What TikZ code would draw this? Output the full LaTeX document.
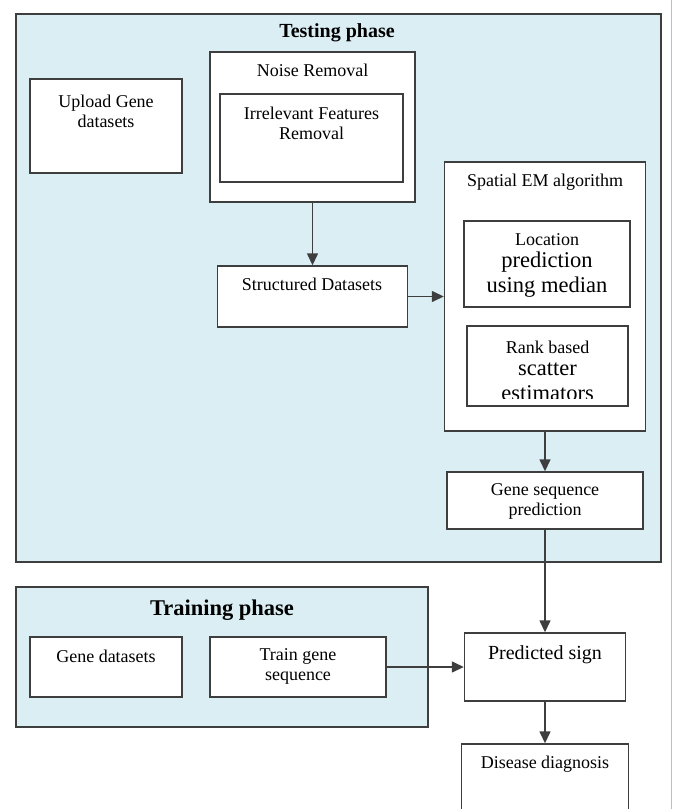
\documentclass[tikz,border=0pt]{standalone}
\usepackage{fontspec}
\setmainfont{Liberation Serif}
\usetikzlibrary{arrows.meta}

\definecolor{phaseblue}{RGB}{218,238,243}
\definecolor{edgegray}{RGB}{62,62,62}

\begin{document}
\begin{tikzpicture}[x=1pt,y=-1pt,
        phase/.style={draw=edgegray, line width=1.6pt, fill=phaseblue, rectangle, inner sep=0pt},
        box/.style={draw=edgegray, line width=1.4pt, fill=white, rectangle, inner sep=0pt},
        lbl/.style={font=\fontsize{18}{20}\selectfont, align=center, inner sep=0pt},
        biglbl/.style={font=\fontsize{22.5}{25}\selectfont, align=center, inner sep=0pt},
        flow/.style={draw=edgegray, line width=1.4pt, -{Triangle[length=12pt,width=11pt]}}]
        
        \clip (0,0) rectangle (675,809);
        \fill[white] (0,0) rectangle (675,809);
        \draw[gray!50, line width=1pt] (671,0) -- (671,809); % page edge
        
        % testing phase
        \node[phase, minimum width=645pt, minimum height=548pt] (testing) at (338.5,288) {};
        \node[font=\bfseries\fontsize{20}{24}\selectfont] (testtitle) at (337,33) {Testing phase};
        
        \node[box, minimum width=152pt, minimum height=94pt] (upload) at (106,126) {};
        \node[lbl] (uploadtxt) at (106,111) {Upload Gene\\datasets};
        
        \node[box, minimum width=205pt, minimum height=150pt] (noise) at (312.5,127) {};
        \node[lbl] (noisetxt) at (312.5,70) {Noise Removal};
        \node[box, minimum width=183pt, minimum height=88pt] (irrelevant) at (311.5,138) {};
        \node[lbl] (irrelevanttxt) at (311.5,123) {Irrelevant Features\\Removal};
        
        \node[box, minimum width=190pt, minimum height=61pt] (structured) at (312.5,296.5) {};
        \node[lbl] (structuredtxt) at (312,284) {Structured Datasets};
        
        \node[box, minimum width=201pt, minimum height=269pt] (spatial) at (545,296.5) {};
        \node[lbl] (spatialtxt) at (545,182) {Spatial EM algorithm};
        \node[box, minimum width=166pt, minimum height=86pt] (location) at (547,264) {};
        \node[lbl] (locationtxt) at (547,240) {Location};
        \node[biglbl] (locationtxtb) at (547,274.5) {prediction\\using median};
        \node[box, minimum width=161pt, minimum height=80pt] (rank) at (547.5,366) {};
        \node[lbl] (ranktxt) at (547.5,347) {Rank based};
        \begin{scope}
            \clip (467,326) rectangle (628,398);
            \node[biglbl] (ranktxtb) at (547.5,381.5) {scatter\\estimators};
        \end{scope}
        
        \node[box, minimum width=196pt, minimum height=57pt] (geneseq) at (545,500.5) {};
        \node[lbl] (geneseqtxt) at (545,501) {Gene sequence\\prediction};
        
        % training phase
        \node[phase, minimum width=412pt, minimum height=140pt] (training) at (222,657) {};
        \node[font=\bfseries\fontsize{22.5}{26}\selectfont] (traintitle) at (222,610) {Training phase};
        
        \node[box, minimum width=152pt, minimum height=60pt] (genedata) at (106,667) {};
        \node[lbl] (genedatatxt) at (106,656) {Gene datasets};
        \node[box, minimum width=176pt, minimum height=60pt] (train) at (298,667) {};
        \node[lbl] (traintxt) at (298,666.5) {Train gene\\sequence};
        
        % output
        \node[box, minimum width=161pt, minimum height=68pt] (predicted) at (545,667) {};
        \node[font=\fontsize{20}{22}\selectfont, inner sep=0pt] (predictedtxt) at (545,655) {Predicted sign};
        \node[box, minimum width=167pt, minimum height=92pt] (disease) at (545,790) {};
        \node[lbl] (diseasetxt) at (545,764) {Disease diagnosis};
        
        % arrows
        \draw[flow] (noise.south) -- (structured.north);
        \draw[flow] (structured.east) -- (spatial.west);
        \draw[flow] (spatial.south) -- (geneseq.north);
        \draw[flow] (geneseq.south) -- (predicted.north);
        \draw[flow] (train.east) -- (predicted.west);
        \draw[flow] (predicted.south) -- (disease.north);
        
\end{tikzpicture}
\end{document}
